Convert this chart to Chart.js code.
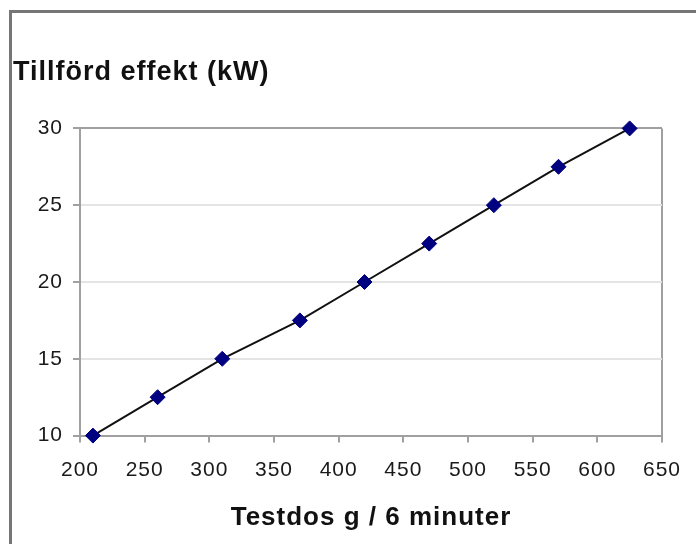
<!DOCTYPE html>
<html>
<head>
<meta charset="utf-8">
<script src="https://cdn.jsdelivr.net/npm/chart.js@4"></script>
<style>
  body { margin: 0; background: #fff; overflow: hidden; }
  #ram { position: absolute; left: 9px; top: 10px; width: 720px; height: 600px; border: 3px solid #767676; }
  #graf { position: absolute; left: 0; top: 0; }
</style>
</head>
<body>
<div id="ram"></div>
<canvas id="graf" width="696" height="544"></canvas>
<script>
var testdos = [210, 260, 310, 370, 420, 470, 520, 570, 625];
var effekt = [10, 12.5, 15, 17.5, 20, 22.5, 25, 27.5, 30];
var xTicks = [200, 250, 300, 350, 400, 450, 500, 550, 600, 650];
var yTicks = [10, 15, 20, 25, 30];

var typsnitt = "'Liberation Sans', Arial, sans-serif";

var punkter = [];
for (var i = 0; i < testdos.length; i++) {
    punkter.push({ x: testdos[i], y: effekt[i] });
}

// texten i originalet är lite utdragen, ge tecknen lite luft
var luftPlugin = {
    id: 'luft',
    afterInit: function(chart) {
        chart.ctx.letterSpacing = '1px';
    }
};

var ctx = document.getElementById('graf').getContext('2d');

new Chart(ctx, {
    type: 'scatter',
    data: {
        datasets: [{
            data: punkter,
            showLine: true,
            borderColor: '#111',
            borderWidth: 2,
            pointStyle: 'rectRot',
            pointRadius: 7.5,
            pointBackgroundColor: '#000080',
            pointBorderColor: '#000080',
            pointBorderWidth: 1,
            clip: false
        }]
    },
    plugins: [luftPlugin],
    options: {
        responsive: false,
        animation: false,
        layout: { padding: { left: 13, right: 29, top: 0, bottom: 7 } },
        plugins: {
            legend: { display: false },
            tooltip: { enabled: false },
            title: {
                display: true,
                text: 'Tillförd effekt (kW)',
                align: 'start',
                color: '#111',
                font: { family: typsnitt, size: 27, weight: 'bold' },
                padding: { top: 56, bottom: 40 }
            }
        },
        scales: {
            x: {
                type: 'linear',
                min: xTicks[0],
                max: xTicks[xTicks.length - 1],
                afterBuildTicks: function(scale) {
                    scale.ticks = xTicks.map(function(v) { return { value: v }; });
                },
                ticks: {
                    color: '#1a1a1a',
                    padding: 15,
                    maxRotation: 0,
                    autoSkip: false,
                    font: { family: typsnitt, size: 21 }
                },
                grid: {
                    color: function(c) {
                        return c.tick && c.tick.value === 650 ? '#a0a0a0' : 'rgba(0,0,0,0)';
                    },
                    lineWidth: 2,
                    tickColor: '#a0a0a0',
                    tickLength: 7
                },
                border: { color: '#a0a0a0', width: 2 },
                title: {
                    display: true,
                    text: 'Testdos g / 6 minuter',
                    color: '#111',
                    font: { family: typsnitt, size: 26, weight: 'bold' },
                    padding: { top: 4, bottom: 4 }
                }
            },
            y: {
                min: yTicks[0],
                max: yTicks[yTicks.length - 1],
                afterBuildTicks: function(scale) {
                    scale.ticks = yTicks.map(function(v) { return { value: v }; });
                },
                afterFit: function(scale) {
                    scale.width = 67;
                },
                ticks: {
                    color: '#1a1a1a',
                    padding: 10,
                    font: { family: typsnitt, size: 21 }
                },
                grid: {
                    color: function(c) {
                        return c.tick && c.tick.value === 30 ? '#a0a0a0' : '#e4e4e4';
                    },
                    lineWidth: 2,
                    tickColor: '#a0a0a0',
                    tickLength: 7
                },
                border: { color: '#a0a0a0', width: 2 }
            }
        }
    }
});
</script>
</body>
</html>
